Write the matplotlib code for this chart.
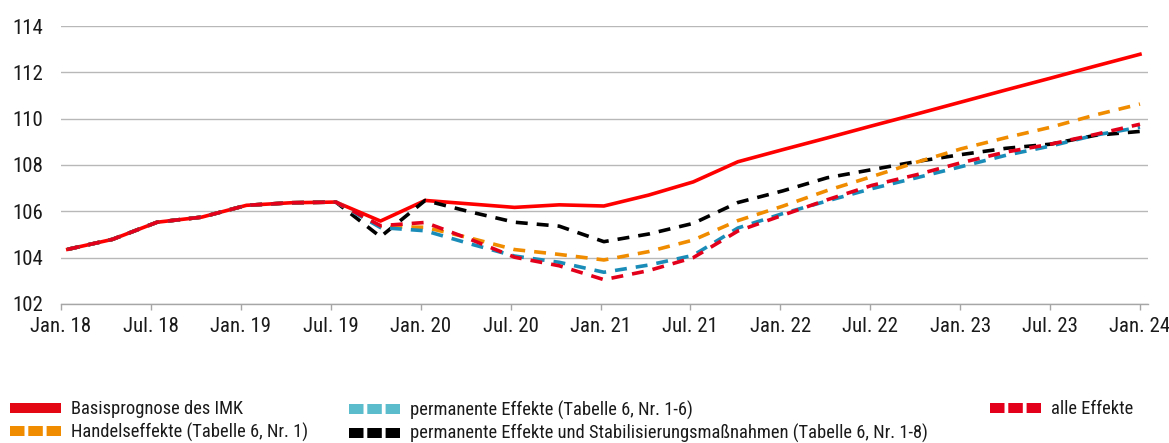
import numpy as np
import matplotlib
matplotlib.use("Agg")
import matplotlib.pyplot as plt
from matplotlib import font_manager
from matplotlib.lines import Line2D

# quarterly index values, Q1 2018 .. Q1 2024
basis = [104.36, 104.79, 105.53, 105.75, 106.26, 106.37, 106.40, 105.58, 106.47,
         106.32, 106.17, 106.28, 106.23, 106.70, 107.27, 108.14, 108.66, 109.17,
         109.69, 110.20, 110.72, 111.24, 111.75, 112.27, 112.78]
handel = [104.36, 104.79, 105.53, 105.75, 106.26, 106.37, 106.40, 105.34, 105.31,
          104.85, 104.35, 104.14, 103.90, 104.26, 104.76, 105.60, 106.22, 106.90,
          107.50, 108.12, 108.70, 109.18, 109.63, 110.16, 110.63]
perm = [104.36, 104.79, 105.53, 105.75, 106.26, 106.37, 106.40, 105.30, 105.16,
        104.60, 104.07, 103.80, 103.37, 103.68, 104.10, 105.28, 105.90, 106.45,
        106.98, 107.45, 107.93, 108.42, 108.82, 109.29, 109.63]
perm_stab = [104.36, 104.79, 105.53, 105.75, 106.26, 106.37, 106.40, 104.90, 106.47,
             105.98, 105.53, 105.36, 104.69, 105.02, 105.48, 106.38, 106.88, 107.45,
             107.80, 108.15, 108.45, 108.72, 108.90, 109.28, 109.45]
alle = [104.36, 104.79, 105.53, 105.75, 106.26, 106.37, 106.40, 105.38, 105.52,
        104.80, 104.02, 103.65, 103.05, 103.44, 104.00, 105.15, 105.83, 106.50,
        107.12, 107.58, 108.10, 108.56, 108.90, 109.32, 109.76]

tick_labels = ["Jan. 18", "Jul. 18", "Jan. 19", "Jul. 19", "Jan. 20", "Jul. 20",
               "Jan. 21", "Jul. 21", "Jan. 22", "Jul. 22", "Jan. 23", "Jul. 23",
               "Jan. 24"]

labels = ["Basisprognose des IMK",
          "Handelseffekte (Tabelle 6, Nr. 1)",
          "permanente Effekte (Tabelle 6, Nr. 1-6)",
          "permanente Effekte und Stabilisierungsmaßnahmen (Tabelle 6, Nr. 1-8)",
          "alle Effekte"]

RED = "#fe0000"
ORANGE = "#f08c00"
TEAL = "#1a8cb8"
CRIMSON = "#e2001a"


def pick_narrow_font():
    # the original uses a condensed sans; take whatever condensed face exists
    prefs = ["Liberation Sans Narrow", "Arial Narrow", "Roboto Condensed",
             "Noto Sans", "Open Sans", "Roboto", "DejaVu Sans", "Lato", "Inter"]
    found = []
    for f in font_manager.fontManager.ttflist:
        narrow = ("Narrow" in f.name or "Condensed" in f.name
                  or f.stretch in ("condensed", "semi-condensed"))
        if not narrow or f.style != "normal":
            continue
        if f.weight not in (400, "normal", "regular", "book"):
            continue
        rank = len(prefs)
        for i, p in enumerate(prefs):
            if f.name.startswith(p):
                rank = i
                break
        found.append((rank, f.stretch != "condensed", f))
    if not found:
        return None
    found.sort(key=lambda t: (t[0], t[1]))
    return found[0][2]


narrow = pick_narrow_font()
if narrow is not None:
    plt.rcParams["font.family"] = [narrow.name, "DejaVu Sans"]
    plt.rcParams["font.stretch"] = narrow.stretch
    tick_fs, leg_fs = 15, 13.3
else:
    plt.rcParams["font.family"] = ["Liberation Sans", "DejaVu Sans"]
    tick_fs, leg_fs = 13, 11

fig = plt.figure(figsize=(11.69, 4.43), dpi=100)
ax = fig.add_axes([0.0522, 0.3138, 0.9299, 0.6275])

# points sit slightly right of the first tick, as in the original
x = np.linspace(0.15, 24, len(basis))

lw = 2.6
dash = (0, (3.3, 2.5))
ax.plot(x, basis, color=RED, lw=lw, solid_joinstyle="round", zorder=3)
ax.plot(x, perm_stab, color="black", lw=lw, ls=dash, zorder=4)
ax.plot(x, handel, color=ORANGE, lw=lw, ls=dash, zorder=4)
ax.plot(x, perm, color=TEAL, lw=lw, ls=dash, zorder=4)
ax.plot(x, alle, color=CRIMSON, lw=lw, ls=dash, zorder=5)

ax.set_xlim(0, 24.18)
ax.set_ylim(102, 114)
ax.set_yticks(np.arange(102, 115, 2))
ax.set_xticks(np.arange(0, 25, 2))
ax.set_xticklabels(tick_labels)

for s in ["top", "right", "left"]:
    ax.spines[s].set_visible(False)
ax.spines["bottom"].set_color("#a6a6a6")
ax.spines["bottom"].set_linewidth(1.0)
ax.yaxis.grid(True, color="#b8b8b8", lw=1.0)
ax.set_axisbelow(True)
ax.tick_params(axis="y", length=0, pad=13, labelsize=tick_fs, colors="#1a1a1a")
ax.tick_params(axis="x", length=4.5, width=1.0, color="#a6a6a6", pad=5,
               labelsize=tick_fs, labelcolor="#1a1a1a")

# legend, three columns placed like the original
sq = (0, (1.45, 0.38))
hlw = 7.2
hs = [Line2D([], [], color="#e30613", lw=hlw, solid_capstyle="butt"),
      Line2D([], [], color=ORANGE, lw=hlw, ls=sq, dash_capstyle="butt"),
      Line2D([], [], color="#5bbccc", lw=hlw, ls=sq, dash_capstyle="butt"),
      Line2D([], [], color="black", lw=hlw, ls=sq, dash_capstyle="butt"),
      Line2D([], [], color=CRIMSON, lw=hlw, ls=sq, dash_capstyle="butt")]

leg_fs_px = leg_fs * 100 / 72
leg_kw = dict(loc="upper left", frameon=False, fontsize=leg_fs, borderpad=0,
              borderaxespad=0, handlelength=51 / leg_fs_px,
              handletextpad=10 / leg_fs_px, labelspacing=0.24,
              labelcolor="#1a1a1a")
top = 1 - 400.5 / 443
fig.legend(hs[0:2], labels[0:2], bbox_to_anchor=(10 / 1169, top), **leg_kw)
fig.legend(hs[2:4], labels[2:4], bbox_to_anchor=(349 / 1169, top), **leg_kw)
fig.legend(hs[4:5], labels[4:5], bbox_to_anchor=(990 / 1169, top), **leg_kw)

fig.savefig("out.png", dpi=100)
